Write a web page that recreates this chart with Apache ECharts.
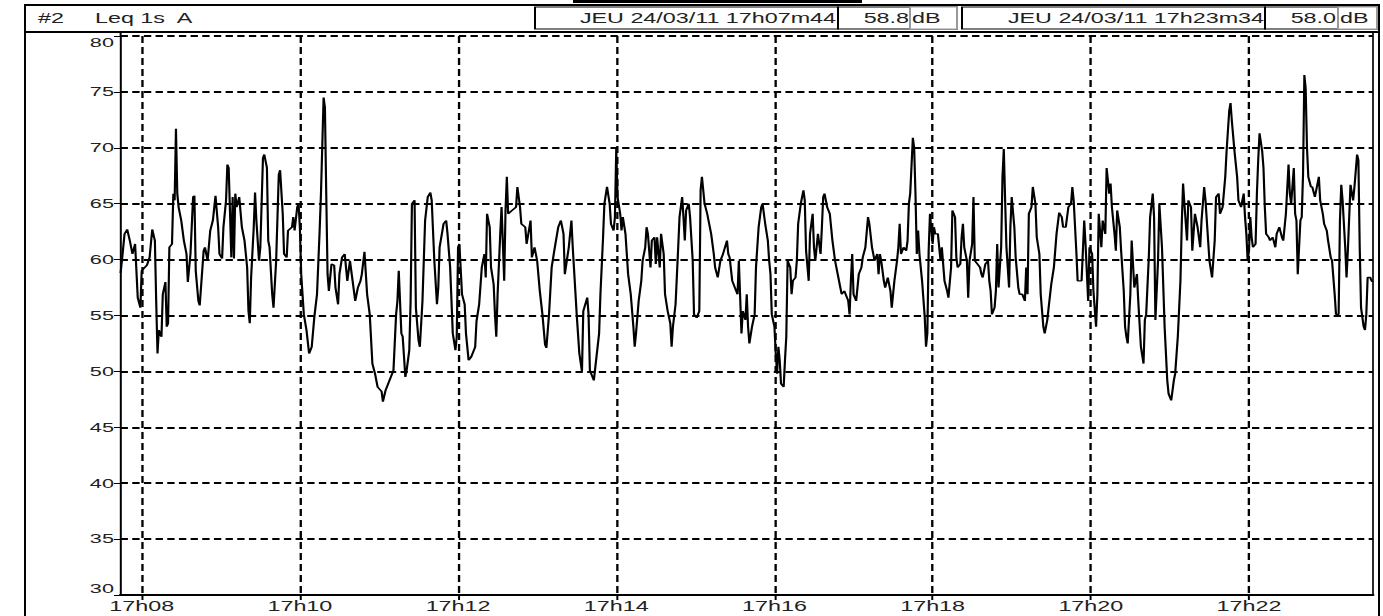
<!DOCTYPE html>
<html>
<head>
<meta charset="utf-8">
<script src="https://cdn.jsdelivr.net/npm/echarts@6.0.0/dist/echarts.min.js"></script>
<style>
  html, body { margin: 0; padding: 0; background: #fff; overflow: hidden; }
  #wrap { width: 1383px; height: 616px; overflow: hidden; }
  /* the source screenshot is stretched horizontally, so draw narrow and stretch */
  #chart { width: 830px; height: 616px; transform: scaleX(1.666265); transform-origin: 0 0; }
</style>
</head>
<body>
<div id="wrap"><div id="chart"></div></div>
<script>
// time in seconds after 17h00m00, Leq 1s A in dB
const secs = [
  464, 465, 467, 469, 471, 473, 475, 477, 479, 480, 484, 486, 488, 490, 491, 492, 493, 495, 496, 498,
  499, 500, 501, 503, 504, 505, 506, 507, 508, 510, 512, 514, 515, 517, 519, 520, 521, 523, 524, 525,
  527, 528, 530, 532, 534, 536, 538, 539, 541, 542, 544, 545, 546, 548, 549, 550, 551, 552, 554, 556,
  558, 560, 561, 562, 563, 565, 566, 567, 569, 570, 572, 573, 575, 576, 577, 579, 580, 582, 584, 585,
  587, 588, 590, 591, 594, 595, 596, 598, 599, 600, 601, 603, 605, 607, 609, 611, 613, 615, 616, 618,
  619, 620, 621, 622, 624, 626, 627, 629, 630, 632, 634, 636, 638, 640, 642, 644, 646, 647, 649, 651,
  653, 655, 657, 659, 662, 663, 665, 668, 671, 673, 674, 675, 677, 678, 680, 681, 683, 684, 685, 687,
  688, 690, 691, 693, 695, 697, 699, 700, 702, 704, 705, 706, 709, 711, 712, 714, 716, 718, 719, 720,
  721, 723, 725, 726, 728, 730, 733, 734, 736, 738, 740, 741, 742, 744, 745, 747, 748, 749, 750, 752,
  753, 755, 756, 757, 758, 761, 764, 765, 767, 768, 771, 772, 775, 776, 778, 780, 782, 784, 786, 787,
  789, 791, 793, 796, 798, 800, 801, 804, 806, 807, 810, 812, 814, 815, 818, 819, 820, 823, 825, 827,
  828, 830, 831, 833, 835, 836, 838, 839, 840, 841, 843, 844, 845, 847, 848, 849, 851, 853, 854, 855,
  857, 859, 860, 862, 863, 864, 866, 867, 869, 870, 871, 873, 874, 876, 877, 879, 881, 882, 883, 885,
  887, 888, 890, 891, 892, 893, 895, 896, 898, 899, 901, 903, 904, 905, 907, 909, 910, 912, 914, 915,
  917, 919, 921, 924, 925, 926, 928, 930, 932, 933, 935, 936, 938, 939, 940, 941, 943, 945, 946, 948,
  950, 951, 953, 955, 956, 957, 958, 960, 961, 962, 963, 964, 965, 967, 968, 969, 970, 972, 973, 974,
  976, 977, 978, 980, 982, 983, 984, 986, 987, 989, 990, 991, 993, 995, 996, 997, 998, 1000, 1002, 1004,
  1006, 1008, 1010, 1011, 1013, 1016, 1017, 1018, 1019, 1020, 1022, 1024, 1026, 1027, 1029, 1031, 1032, 1034, 1036, 1038,
  1039, 1040, 1041, 1043, 1044, 1046, 1048, 1049, 1051, 1053, 1054, 1055, 1056, 1058, 1060, 1061, 1062, 1063, 1065, 1066,
  1067, 1068, 1069, 1070, 1072, 1074, 1075, 1076, 1077, 1078, 1080, 1081, 1082, 1084, 1086, 1087, 1089, 1091, 1092, 1094,
  1095, 1097, 1098, 1099, 1101, 1102, 1103, 1104, 1106, 1107, 1108, 1110, 1111, 1112, 1114, 1116, 1117, 1118, 1120, 1122,
  1123, 1124, 1125, 1127, 1128, 1129, 1130, 1132, 1133, 1134, 1135, 1136, 1138, 1139, 1140, 1142, 1143, 1145, 1146, 1148,
  1150, 1151, 1152, 1153, 1155, 1156, 1158, 1159, 1161, 1162, 1164, 1165, 1167, 1168, 1170, 1172, 1174, 1176, 1178, 1179,
  1181, 1183, 1185, 1186, 1187, 1189, 1190, 1193, 1194, 1195, 1196, 1198, 1199, 1201, 1202, 1204, 1205, 1206, 1208, 1209,
  1211, 1212, 1214, 1215, 1216, 1218, 1219, 1220, 1222, 1223, 1225, 1226, 1227, 1228, 1230, 1231, 1233, 1235, 1236, 1238,
  1240, 1241, 1242, 1244, 1245, 1247, 1248, 1249, 1251, 1252, 1254, 1256, 1258, 1259, 1261, 1263, 1264, 1266, 1268, 1269,
  1270, 1271, 1273, 1274, 1276, 1277, 1279, 1280, 1281, 1283, 1284, 1286, 1287, 1289, 1290, 1292, 1294, 1295, 1297, 1298,
  1300, 1302, 1303, 1305, 1306, 1307, 1309, 1311, 1312, 1314, 1316, 1317, 1318, 1319, 1320, 1321, 1322, 1323, 1325, 1326,
  1327, 1328, 1330, 1331, 1332, 1333, 1335, 1336, 1338, 1340, 1341, 1343, 1345, 1346, 1348, 1350, 1351, 1352, 1354, 1355,
  1356, 1357, 1359, 1360, 1361, 1362, 1363, 1364, 1365, 1367, 1368, 1370, 1371, 1373, 1374, 1376, 1377, 1379, 1380, 1382,
  1383, 1385, 1386, 1388, 1389, 1390, 1391, 1393, 1394, 1395, 1397, 1399, 1400, 1402, 1403, 1404, 1405, 1407, 1408, 1409,
  1410, 1412, 1413, 1414
];
const leq = [
  58.8, 59.9, 62.3, 62.7, 61.7, 60.5, 61.4, 56.6, 55.7, 59, 59.5, 60.2, 62.7, 61.7, 56.3, 51.6, 53.7, 53.1, 56.9, 58,
  54, 54.3, 61.1, 61.4, 65.9, 65.3, 71.7, 65.9, 64.7, 63.5, 61.7, 60.5, 58, 60.5, 65.6, 65.7, 59, 56.3, 55.9, 57.5,
  60.8, 61.1, 59.9, 62.6, 63.5, 65.7, 62.9, 60.5, 60.1, 62.9, 65.3, 68.5, 68.2, 60.2, 65.6, 60.1, 65.9, 64.7, 65.6, 62.9,
  61.7, 59.3, 55.4, 54.3, 58.4, 62.9, 66, 63.5, 59.9, 61.1, 69.1, 69.4, 68.2, 61.7, 61.1, 56.9, 55.7, 59.9, 67.6, 68,
  64.1, 60.5, 60.2, 62.6, 62.9, 63.8, 62.6, 64.7, 65, 62.9, 58.7, 55.1, 53.7, 51.6, 52.2, 54.9, 56.9, 62.6, 65.9, 74.5,
  73.6, 65.9, 58.7, 57.2, 59.6, 59.5, 57.5, 56, 58.7, 60.2, 60.5, 58.1, 59.9, 58.1, 56.3, 57.5, 58.1, 58.7, 60.7, 56.9,
  55.1, 50.7, 49.8, 48.6, 48.2, 47.3, 48.3, 49.2, 50.1, 55.1, 56.3, 59, 53.4, 53.1, 49.5, 50.1, 51.9, 56.3, 65, 65.3,
  55.7, 52.8, 52.2, 56.3, 63.5, 65.6, 66, 65.3, 59.9, 56, 57.5, 61.1, 63.2, 63.5, 62.3, 59.3, 53.4, 51.9, 53.1, 61.1,
  61.4, 56.9, 56, 53.4, 51, 51.3, 52.2, 54.5, 56, 59.3, 60.5, 58.4, 64.1, 62.9, 59.3, 57.8, 55.1, 53.1, 56.9, 62.3,
  64.7, 58.1, 64.4, 67.4, 64.1, 64.4, 64.7, 66.5, 64.7, 63.2, 62.9, 61.4, 63.5, 60.2, 61.1, 59.9, 57.2, 55.1, 52.4, 52.1,
  55.1, 59.3, 60.8, 62.9, 63.5, 62.3, 58.7, 61.1, 63.5, 61.1, 55.1, 51.6, 50, 55.4, 56.6, 55.1, 50.1, 49.2, 51.3, 53.4,
  56.9, 62, 65, 66.5, 65, 63.2, 62.6, 63.8, 69.9, 65.6, 64.1, 62.6, 63.8, 62.3, 60.5, 58.7, 56.9, 54, 52.2, 53.4,
  56.3, 58.1, 59.9, 61.1, 62.9, 62.3, 59.3, 61.7, 62, 59.6, 62, 59.3, 62.3, 60.5, 56.9, 55.4, 54.3, 52.2, 54, 56,
  61.1, 63.8, 65.6, 63.8, 61.7, 64.4, 65, 63.8, 59.9, 55.1, 54.8, 55.4, 66.2, 67.4, 65, 64.1, 63.5, 62.3, 60.5, 59.3,
  58.4, 59.9, 60.5, 61.7, 60.5, 60.2, 58.1, 57.5, 56.9, 59.9, 53.4, 55.4, 54.6, 56.9, 54, 52.5, 54, 55.1, 59.3, 62.9,
  64.7, 65, 63.2, 61.7, 59.9, 58.7, 55.1, 54, 51.6, 49.8, 52.2, 51, 48.9, 48.6, 51, 53.1, 59.9, 59.3, 56.9, 58.1,
  58.4, 59.9, 63.2, 65, 66.2, 65.3, 60.8, 58.1, 62.3, 64.1, 61.1, 59.9, 62.3, 60.5, 62.9, 65.6, 65.9, 64.7, 64.1, 61.7,
  59.9, 58.7, 57.5, 56.9, 57.2, 56.3, 55.1, 58.1, 60.5, 56.9, 56.3, 58.7, 59.3, 60.2, 61.1, 63.8, 63.2, 61.1, 59.9, 60.5,
  58.7, 60.5, 59.9, 58.1, 57.5, 58.4, 57.2, 55.7, 58.1, 59.9, 61.1, 63.2, 60.5, 61.1, 60.8, 61.7, 65, 65.9, 70.9, 70,
  65.9, 60.5, 62.6, 60.5, 58.1, 54.9, 52.2, 53.4, 60.8, 64.1, 61.4, 62.9, 62.3, 62.3, 59.9, 61.1, 58.1, 57.2, 56.6, 59.3,
  64.4, 63.8, 60.2, 59.3, 59.6, 62, 63.2, 61.1, 59.9, 56.6, 59.9, 61.4, 65.6, 59.9, 59.6, 59.3, 58.7, 58.4, 59.6, 59.9,
  58.1, 57.2, 55.1, 55.7, 57.2, 61.4, 57.5, 61.1, 67.4, 69.9, 65.3, 61.1, 57.5, 62.9, 65.6, 62.9, 60.2, 57.5, 56.9, 56.9,
  56.3, 59.3, 56.9, 64.1, 64.7, 66.5, 65, 62, 60.5, 56.9, 54, 53.4, 54.6, 55.7, 57.8, 59.3, 62.3, 64.2, 63.8, 62.9,
  62.9, 64.7, 65, 66.5, 65.3, 60.8, 58.1, 58.1, 60.8, 63.5, 61.4, 56.3, 61.1, 60.5, 57.2, 54, 56.9, 64.1, 61.1, 63.5,
  62.3, 68.2, 65.9, 66.8, 64.7, 62.3, 60.8, 64.4, 62.9, 60.8, 57.2, 54, 53.1, 52.5, 56.9, 61.7, 57.5, 58.7, 56.3, 52.2,
  50.7, 54.6, 55.1, 60.2, 63.8, 65.9, 63.8, 54.6, 59.9, 65, 61.1, 54, 49.2, 48, 47.4, 49.2, 49.8, 53.1, 58.1, 63.2,
  66.8, 65, 61.7, 65.3, 64.7, 60.8, 64.1, 63.5, 62.9, 61.1, 63.5, 66.5, 65.3, 61.7, 59.9, 58.4, 61.7, 65.6, 65.9, 64.1,
  64.7, 67.4, 69.7, 73.3, 74, 72.4, 69.7, 67.4, 65.3, 64.7, 65.9, 63.8, 62.3, 59.9, 60.8, 63.8, 62, 61.1, 61.4, 65.9,
  68.9, 71.3, 69.7, 68.2, 64.7, 62.3, 62, 61.7, 62, 61.1, 62.3, 62.9, 62, 61.7, 64.1, 68.5, 65.9, 65, 68.2, 64.1,
  63.5, 58.7, 63.5, 63.8, 67.6, 76.5, 75.3, 70, 67.4, 66.5, 66.5, 65.6, 66.2, 67.4, 65.3, 64.1, 63.2, 62.6, 61.7, 60.2,
  59.9, 56.9, 55.1, 55.1, 63.5, 66.7, 65.3, 61.1, 58.4, 60.8, 66.7, 65.3, 66.5, 69.4, 68.9, 61.1, 55.7, 54, 53.7, 55.1,
  58.4, 58.4, 58.1, 58.0
];
const tickSecs = [480, 600, 720, 840, 960, 1080, 1200, 1320];
const tickLabels = ["17h08", "17h10", "17h12", "17h14", "17h16", "17h18", "17h20", "17h22"];
const channelTitle = "#2";
const measureTitle = "Leq 1s  A";
const cursorStart = "JEU 24/03/11 17h07m44";
const cursorStartValue = "58.8";
const cursorEnd = "JEU 24/03/11 17h23m34";
const cursorEndValue = "58.0";

const S = 1383 / 830;
const X = (v) => v / S;
const FONT = '14px "Liberation Sans", Arial, sans-serif';

const chart = echarts.init(document.getElementById("chart"), null, { renderer: "svg" });

const box = (x1, x2, stroke) => ({
  type: "rect",
  shape: { x: X(x1), y: 7, width: X(x2 - x1), height: 22 },
  style: { fill: "#fff", stroke: stroke, lineWidth: 1.2 },
  z: 100,
  silent: true,
});
const txt = (x, text, align) => ({
  type: "text",
  x: X(x),
  y: 18,
  style: { text: text, fill: "#222", font: FONT, textAlign: align, textVerticalAlign: "middle", align: align, verticalAlign: "middle" },
  z: 101,
  silent: true,
});
const ln = (x1, y1, x2, y2, w) => ({
  type: "line",
  shape: { x1: X(x1), y1: y1, x2: X(x2), y2: y2 },
  style: { stroke: "#000", lineWidth: w },
  z: 100,
  silent: true,
});

chart.setOption({
  backgroundColor: "#fff",
  animation: false,
  grid: { left: X(120.6), right: 830 - X(1372.9), top: 36, bottom: 21, containLabel: false },
  xAxis: {
    type: "value",
    min: 464,
    max: 1414,
    axisLine: { show: true, onZero: false, lineStyle: { color: "#000", width: 2 } },
    axisTick: { show: true, length: 5, customValues: tickSecs, lineStyle: { color: "#000", width: 1.2 } },
    axisLabel: {
      customValues: tickSecs,
      formatter: (v) => tickLabels[tickSecs.indexOf(v)] || "",
      color: "#222",
      fontSize: 14,
      fontFamily: "Liberation Sans",
      margin: 4,
    },
    splitLine: { show: true, lineStyle: { color: "#000", width: 1.4, type: [7, 4] } },
  },
  yAxis: {
    type: "value",
    min: 30,
    max: 80,
    interval: 5,
    axisLine: { show: true, lineStyle: { color: "#000", width: 1.2 } },
    axisTick: { show: true, length: 4, lineStyle: { color: "#000", width: 1 } },
    axisLabel: {
      color: "#222",
      fontSize: 13,
      fontFamily: "Liberation Sans",
      margin: 4,
      verticalAlignMaxLabel: "top",
      verticalAlignMinLabel: "bottom",
    },
    splitLine: { show: true, lineStyle: { color: "#000", width: 2, type: [4.4, 2.6] } },
  },
  series: [
    {
      name: measureTitle,
      type: "line",
      data: secs.map((s, i) => [s, leq[i]]),
      showSymbol: false,
      symbol: "none",
      lineStyle: { color: "#000", width: 1.3 },
      z: 5,
    },
  ],
  graphic: [
    { type: "rect", shape: { x: X(573), y: 0, width: X(862 - 573), height: 3 }, style: { fill: "#000" }, z: 100, silent: true },
    ln(25, 5, 1380, 5, 2),
    ln(25, 4, 25, 616, 1.2),
    ln(25, 32, 1380, 32, 2),
    ln(1379, 4, 1379, 616, 1.2),
    ln(1373, 32, 1373, 595, 1),
    ln(120.6, 32, 120.6, 36, 1.2),
    box(535, 838, "#000"),
    box(838, 957, "#000"),
    box(910, 957, "#999"),
    box(962, 1265, "#000"),
    box(1265, 1377, "#000"),
    box(1338, 1377, "#999"),
    txt(38, channelTitle, "left"),
    txt(95, measureTitle, "left"),
    txt(836, cursorStart, "right"),
    txt(909, cursorStartValue, "right"),
    txt(912, "dB", "left"),
    txt(1264, cursorEnd, "right"),
    txt(1336, cursorEndValue, "right"),
    txt(1340, "dB", "left"),
  ],
});
</script>
</body>
</html>
